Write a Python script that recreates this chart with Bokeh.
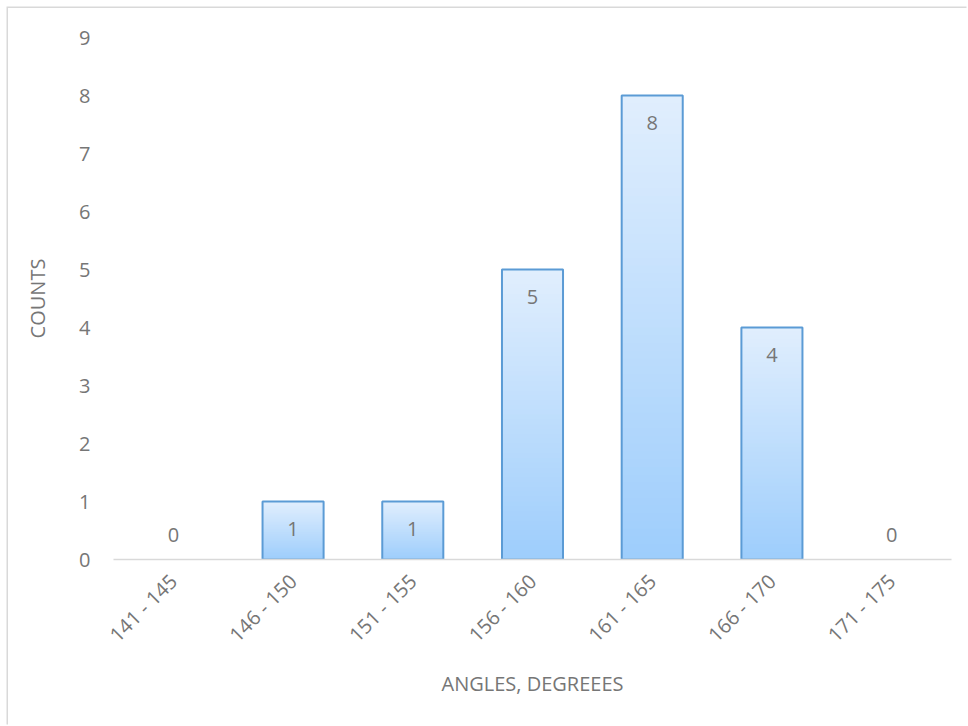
from bokeh.plotting import figure
from bokeh.models import ColumnDataSource, FactorRange, Range1d, FixedTicker, InlineStyleSheet
from bokeh.core.properties import value
from bokeh.embed import file_html
from bokeh.resources import INLINE
import math

# Histogram of measured angles
bins = ["141 - 145", "146 - 150", "151 - 155", "156 - 160", "161 - 165", "166 - 170", "171 - 175"]
counts = [0, 1, 1, 5, 8, 4, 0]
y_ticks = [0, 1, 2, 3, 4, 5, 6, 7, 8, 9]

FONT = "Open Sans"
TEXT_COLOR = "#767676"
TOP_COLOR = (0xE0, 0xEE, 0xFD)
BOTTOM_COLOR = (0x9D, 0xCD, 0xFC)
OUTLINE = "#5B9BD5"
BAR_WIDTH = 0.51
STEPS = 60

p = figure(
    width=960, height=718,
    x_range=FactorRange(*bins, range_padding=0),
    y_range=Range1d(0, 9),
    output_backend="svg", toolbar_location=None,
    min_border_left=105, min_border_right=17,
    min_border_top=29, min_border_bottom=167,
)
p.margin = (8, 0, 0, 8)
# thin light-gray border along the top and left of the chart area
p.stylesheets = [InlineStyleSheet(css=":host { box-shadow: -1.5px -1.5px 0 0 #D9D9D9; }")]
p.outline_line_color = None
p.grid.grid_line_color = None
p.background_fill_color = "white"
p.border_fill_color = "white"

# vertical gradient inside each bar: overlapping slices, tallest first
xs, tops, colors = [], [], []
for k in range(STEPS, 0, -1):
    t = k / STEPS  # 1 at the top of the bar
    col = tuple(round(BOTTOM_COLOR[i] + (TOP_COLOR[i] - BOTTOM_COLOR[i]) * t) for i in range(3))
    for b, c in zip(bins, counts):
        if c == 0:
            continue
        xs.append(b)
        tops.append(c * t)
        colors.append("#%02x%02x%02x" % col)

grad = ColumnDataSource(dict(x=xs, top=tops, color=colors))
p.vbar(x="x", bottom=0, top="top", width=BAR_WIDTH, source=grad,
       fill_color="color", line_color=None)

bars = ColumnDataSource(dict(x=bins, top=counts,
                             label=[str(c) for c in counts],
                             off=[27 if c > 0 else -25 for c in counts]))
# bar outlines (zero-height bins have no visible bar)
outline_src = ColumnDataSource(dict(x=[b for b, c in zip(bins, counts) if c > 0],
                                    top=[c for c in counts if c > 0]))
p.vbar(x="x", top="top", bottom=0, width=BAR_WIDTH, source=outline_src,
       fill_color=None, line_color=OUTLINE, line_width=2)

# value labels
p.text(x="x", y="top", text="label", source=bars, y_offset="off",
       text_font=value(FONT), text_font_size="20px", text_color=TEXT_COLOR,
       text_align="center", text_baseline="middle")

# axes
p.yaxis.ticker = FixedTicker(ticks=y_ticks)
for ax in (p.xaxis[0], p.yaxis[0]):
    ax.major_tick_line_color = None
    ax.minor_tick_line_color = None
    ax.major_label_text_font = FONT
    ax.major_label_text_font_size = "20px"
    ax.major_label_text_color = TEXT_COLOR
    ax.axis_label_text_font = FONT
    ax.axis_label_text_font_size = "20px"
    ax.axis_label_text_color = TEXT_COLOR
    ax.axis_label_text_font_style = "normal"

p.yaxis.axis_line_color = None
p.yaxis.major_label_standoff = 17
p.yaxis.axis_label = "COUNTS"
p.yaxis.axis_label_standoff = 25

p.xaxis.axis_line_color = "#D9D9D9"
p.xaxis.axis_line_width = 1.5
p.xaxis.major_label_orientation = math.pi / 4
p.xaxis.major_label_standoff = 12
p.xaxis.axis_label = "ANGLES, DEGREEES"
p.xaxis.axis_label_standoff = 10

open("out.html", "w").write(file_html(p, INLINE))
